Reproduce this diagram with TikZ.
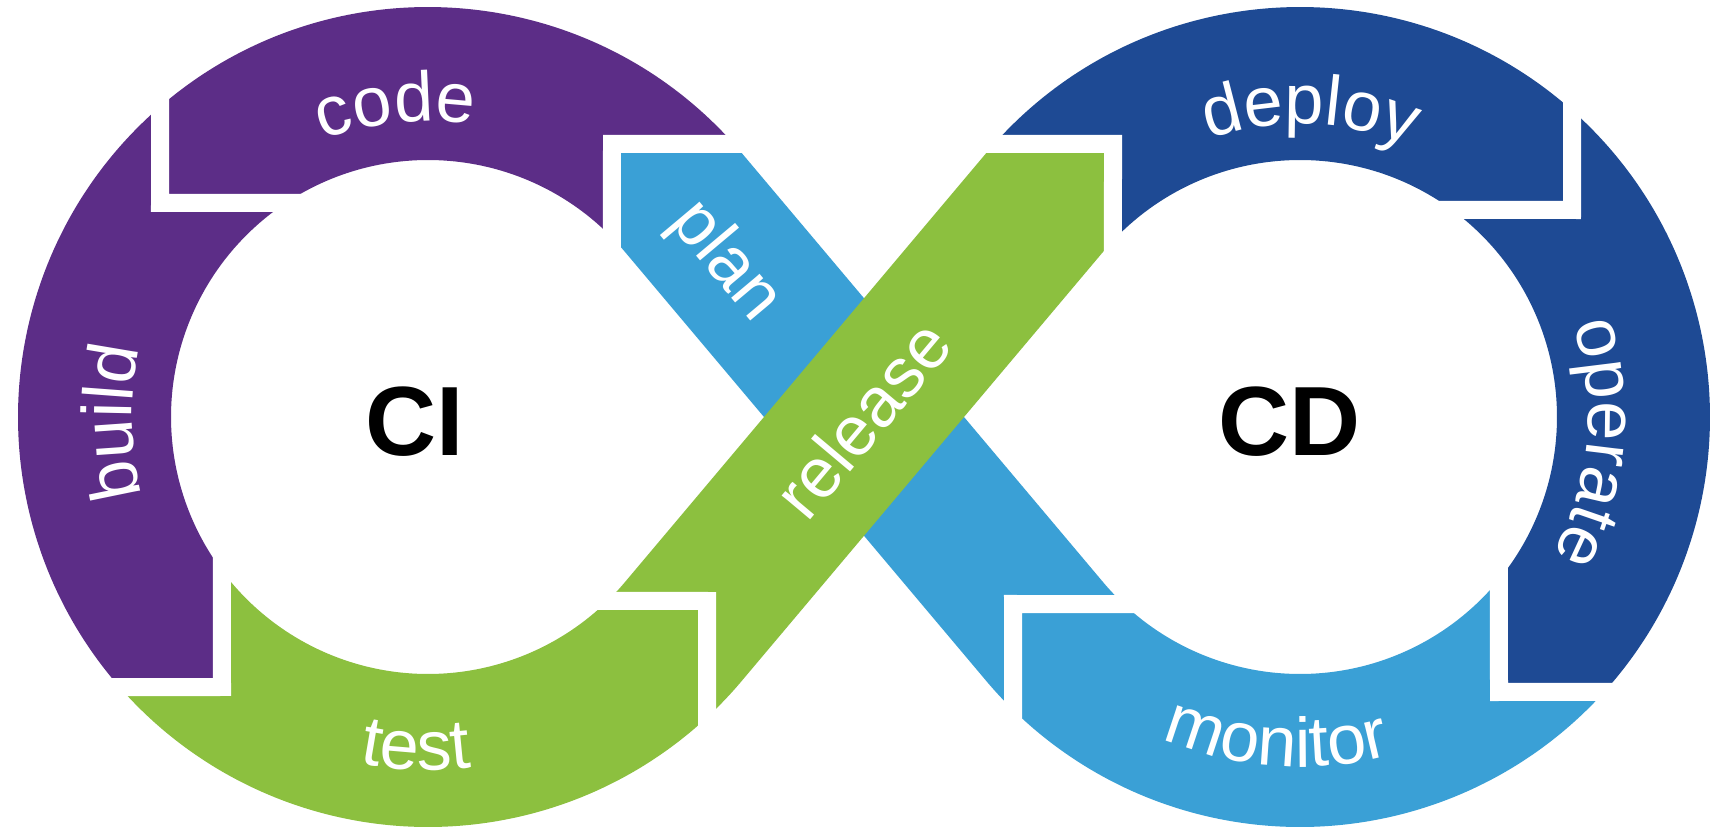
\documentclass[tikz,border=0pt]{standalone}
\usepackage{fontspec}
\setmainfont{Liberation Sans}
\usetikzlibrary{calc}
\definecolor{cpurple}{HTML}{5C2D87}
\definecolor{cgreen}{HTML}{8CC03F}
\definecolor{clblue}{HTML}{3AA0D6}
\definecolor{cdblue}{HTML}{1E4A94}
% one character of a curved label: #1 name, #2 centre, #3 radius, #4 angle, #5 rotation offset, #6 character
\newcommand\arcch[6]{%
  \coordinate (#1p) at ($(#2)+(#4:#3)$);
  \pgfmathsetmacro\rotang{#4+#5}
  \node[chr, rotate=\rotang] (#1) at (#1p) {#6};
}
\begin{document}
\begin{tikzpicture}[
  gap/.style={white, line width=0.18cm, line join=miter, line cap=butt},
  lbl/.style={text=white, font=\fontsize{20}{24}\selectfont, inner sep=0pt},
  chr/.style={text=white, font=\fontsize{20}{24}\selectfont, inner sep=0pt, anchor=base},
  big/.style={text=black, font=\fontsize{28}{32}\selectfont\bfseries, inner sep=0pt}
]
\useasboundingbox (0,0) rectangle (17.11,8.28);
\fill[white] (0,0) rectangle (17.11,8.28);
% loop centres
\coordinate (OL) at (4.28,4.11);
\coordinate (OR) at (13.00,4.11);
% tangent points of the crossing bands
\coordinate (T1o) at ($(OL)+(40:4.1)$);
\coordinate (T1i) at ($(OL)+(40:2.57)$);
\coordinate (T2o) at ($(OL)+(-40:4.1)$);
\coordinate (T2i) at ($(OL)+(-40:2.57)$);
\coordinate (S1o) at ($(OR)+(220:4.1)$);
\coordinate (S1i) at ($(OR)+(220:2.57)$);
\coordinate (S2o) at ($(OR)+(140:4.1)$);
\coordinate (S2i) at ($(OR)+(140:2.57)$);
% joints
\coordinate (A0) at (1.60,6.25);
\coordinate (Aout) at ($(OL)+(130.8:4.1)$);
\coordinate (Ain) at ($(OL)+(123.6:2.57)$);
\coordinate (B0) at (2.22,1.41);
\coordinate (Bout) at ($(OL)+(221.2:4.1)$);
\coordinate (Bin) at ($(OL)+(216.7:2.57)$);
\coordinate (C0) at (7.07,2.27);
\coordinate (Cout) at ($(OL)+(312.9:4.1)$);
\coordinate (Cin) at ($(OL)+(314.3:2.57)$);
\coordinate (H0) at (6.12,6.84);
\coordinate (Hout) at ($(OL)+(41.75:4.1)$);
\coordinate (Hin) at ($(OL)+(44.3:2.57)$);
\coordinate (D0) at (11.13,6.84);
\coordinate (Dout) at ($(OR)+(138.25:4.1)$);
\coordinate (Din) at ($(OR)+(136.7:2.57)$);
\coordinate (E0) at (15.72,6.18);
\coordinate (Eout) at ($(OR)+(48.4:4.1)$);
\coordinate (Ein) at ($(OR)+(53.7:2.57)$);
\coordinate (F0) at (14.99,1.36);
\coordinate (Fout) at ($(OR)+(-42.1:4.1)$);
\coordinate (Fin) at ($(OR)+(-39.3:2.57)$);
\coordinate (G0) at (10.13,2.24);
\coordinate (Gout) at ($(OR)+(225.6:4.1)$);
\coordinate (Gin) at ($(OR)+(226.7:2.57)$);

% build
\fill[cpurple] (Aout) arc[start angle=130.8, end angle=221.2, radius=4.1] -- (B0) -- (Bin)
  arc[start angle=216.7, end angle=123.6, radius=2.57] -- (A0) -- cycle;
% code
\fill[cpurple] (Aout) arc[start angle=130.8, end angle=41.75, radius=4.1] -- (H0) -- (Hin)
  arc[start angle=44.3, end angle=123.6, radius=2.57] -- (A0) -- cycle;
% test
\fill[cgreen] (Bout) arc[start angle=221.2, end angle=312.9, radius=4.1] -- (C0) -- (Cin)
  arc[start angle=314.3, end angle=216.7, radius=2.57] -- (B0) -- cycle;
% deploy
\fill[cdblue] (Dout) arc[start angle=138.25, end angle=48.4, radius=4.1] -- (E0) -- (Ein)
  arc[start angle=53.7, end angle=136.7, radius=2.57] -- (D0) -- cycle;
% operate
\fill[cdblue] (Eout) arc[start angle=48.4, end angle=-42.1, radius=4.1] -- (F0) -- (Fin)
  arc[start angle=-39.3, end angle=53.7, radius=2.57] -- (E0) -- cycle;
% monitor
\fill[clblue] (Fout) arc[start angle=-42.1, end angle=-134.4, radius=4.1] -- (G0) -- (Gin)
  arc[start angle=-133.3, end angle=-39.3, radius=2.57] -- (F0) -- cycle;
% plan
\fill[clblue] (Hin) -- (H0) -- (Hout) arc[start angle=41.75, end angle=40, radius=4.1]
  -- (S1i) arc[start angle=220, end angle=226.7, radius=2.57] -- (G0) -- (Gout)
  arc[start angle=225.6, end angle=220, radius=4.1] -- (T1i)
  arc[start angle=40, end angle=44.3, radius=2.57] -- cycle;
% release
\fill[cgreen] (Cout) arc[start angle=312.9, end angle=320, radius=4.1]
  -- (S2i) arc[start angle=140, end angle=136.7, radius=2.57] -- (D0) -- (Dout)
  arc[start angle=138.25, end angle=140, radius=4.1] -- (T2i)
  arc[start angle=320, end angle=314.3, radius=2.57] -- (C0) -- cycle;

% white gaps at the joints
\draw[gap] ($(Aout)+(0,0.15)$) -- (A0) -- ($(Ain)+(0.15,0)$);
\draw[gap] ($(Bout)+(-0.15,0)$) -- (B0) -- ($(Bin)+(0,0.15)$);
\draw[gap] ($(Cin)+(-0.15,0)$) -- (C0) -- ($(Cout)+(0,-0.15)$);
\draw[gap] ($(Dout)+(-0.15,0)$) -- (D0) -- ($(Din)+(0,-0.15)$);
\draw[gap] ($(Eout)+(0,0.15)$) -- (E0) -- ($(Ein)+(-0.15,0)$);
\draw[gap] ($(Fin)+(0,0.15)$) -- (F0) -- ($(Fout)+(0.15,0)$);
\draw[gap] ($(Gin)+(0.15,0)$) -- (G0) -- ($(Gout)+(0,-0.15)$);
\draw[gap] ($(Hout)+(0.15,0)$) -- (H0) -- ($(Hin)+(0,-0.15)$);

% curved labels, one character at a time
\arcch{code1}{OL}{2.96}{107.35}{-90}{c}
\arcch{code2}{OL}{2.96}{100.16}{-90}{o}
\arcch{code3}{OL}{2.96}{92.59}{-90}{d}
\arcch{code4}{OL}{2.96}{85.04}{-90}{e}
\arcch{build1}{OL}{2.96}{191.59}{-90}{b}
\arcch{build2}{OL}{2.96}{184.02}{-90}{u}
\arcch{build3}{OL}{2.96}{178.73}{-90}{i}
\arcch{build4}{OL}{2.96}{175.72}{-90}{l}
\arcch{build5}{OL}{2.96}{170.41}{-90}{d}
\arcch{test1}{OL}{3.53}{260.39}{90}{t}
\arcch{test2}{OL}{3.53}{265.14}{90}{e}
\arcch{test3}{OL}{3.53}{271.17}{90}{s}
\arcch{test4}{OL}{3.53}{275.61}{90}{t}
\arcch{deploy1}{OR}{2.93}{104.43}{-90}{d}
\arcch{deploy2}{OR}{2.93}{96.78}{-90}{e}
\arcch{deploy3}{OR}{2.93}{89.13}{-90}{p}
\arcch{deploy4}{OR}{2.93}{83.80}{-90}{l}
\arcch{deploy5}{OR}{2.93}{78.46}{-90}{o}
\arcch{deploy6}{OR}{2.93}{71.18}{-90}{y}
\arcch{operate1}{OR}{2.88}{14.82}{-90}{o}
\arcch{operate2}{OR}{2.88}{7.04}{-90}{p}
\arcch{operate3}{OR}{2.88}{-0.72}{-90}{e}
\arcch{operate4}{OR}{2.88}{-6.95}{-90}{r}
\arcch{operate5}{OR}{2.88}{-13.16}{-90}{a}
\arcch{operate6}{OR}{2.88}{-18.99}{-90}{t}
\arcch{operate7}{OR}{2.88}{-24.82}{-90}{e}
\arcch{monitor1}{OR}{3.50}{251.61}{90}{m}
\arcch{monitor2}{OR}{3.50}{259.60}{90}{o}
\arcch{monitor3}{OR}{3.50}{266.00}{90}{n}
\arcch{monitor4}{OR}{3.50}{270.47}{90}{i}
\arcch{monitor5}{OR}{3.50}{273.35}{90}{t}
\arcch{monitor6}{OR}{3.50}{278.15}{90}{o}
\arcch{monitor7}{OR}{3.50}{283.27}{90}{r}

% band labels
\node[lbl, rotate=-50] (plan) at (7.25,5.66) {plan};
\node[lbl, rotate=50] (release) at (8.62,4.09) {release};

% centre labels
\node[big] (ci) at (4.15,4.06) {CI};
\node[big] (cd) at (12.90,4.06) {CD};
\end{tikzpicture}
\end{document}
